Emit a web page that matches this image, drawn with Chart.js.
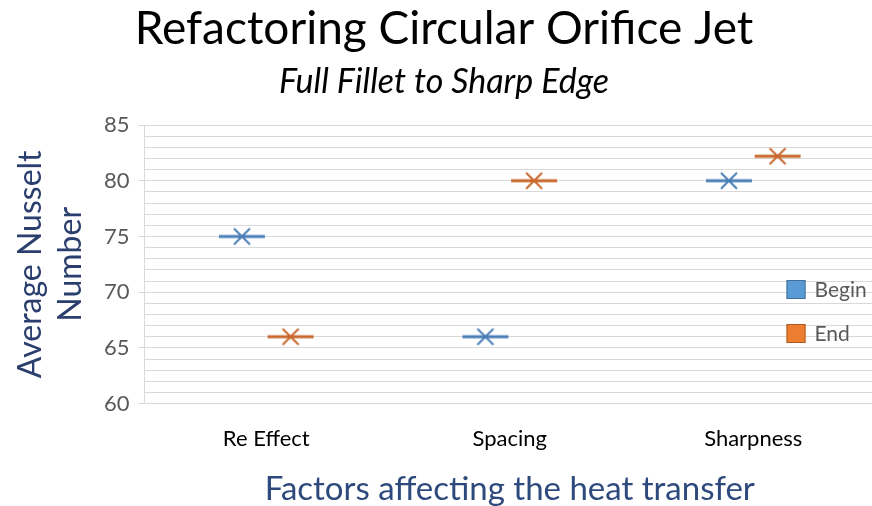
<!DOCTYPE html>
<html>
<head>
<meta charset="utf-8">
<script src="https://cdn.jsdelivr.net/npm/chart.js@4.4.0/dist/chart.umd.min.js"></script>
<style>
  html, body { margin: 0; padding: 0; background: #fff; overflow: hidden; }
  #wrap { width: 880px; height: 506px; }
</style>
</head>
<body>
<div id="wrap"><canvas id="chart" width="880" height="506"></canvas></div>
<script>
// 数据
const categories = ['Re Effect', 'Spacing', 'Sharpness'];
const beginValues = [75, 66, 80];
const endValues = [66, 80, 82.2];
const seriesNames = ['Begin', 'End'];

const FONT = "Lato, 'Open Sans', sans-serif";
const BLUE_LINE = '#4A7EB6';
const ORANGE_LINE = '#C9672C';
const BLUE_FILL = '#5B9BD5';
const ORANGE_FILL = '#ED7D31';

// 标记：横线 + X
function makeMarker(color) {
    const c = document.createElement('canvas');
    c.width = 48; c.height = 20;
    const g = c.getContext('2d');
    g.strokeStyle = color;
    g.lineCap = 'butt';
    g.lineWidth = 3;
    g.beginPath();
    g.moveTo(1, 10); g.lineTo(47, 10);
    g.stroke();
    g.lineWidth = 2;
    g.beginPath();
    g.moveTo(16, 2); g.lineTo(32, 18);
    g.moveTo(32, 2); g.lineTo(16, 18);
    g.stroke();
    return c;
}

// 组内偏移
const offset = 0.1;
function toPoints(values, shift) {
    return values.map((v, i) => ({ x: i + 0.5 + shift, y: v }));
}

// 图例（画在绘图区内部）
const innerLegend = {
    id: 'innerLegend',
    afterDraw(chart) {
        const { ctx, chartArea } = chart;
        const fills = [BLUE_FILL, ORANGE_FILL];
        const borders = ['#41719C', '#AE5A21'];
        ctx.save();
        ctx.font = '21px ' + FONT;
        ctx.textBaseline = 'middle';
        chart.data.datasets.forEach((ds, i) => {
            const x = chartArea.left + 642;
            const y = chartArea.top + 164 + i * 44;
            ctx.fillStyle = fills[i];
            ctx.fillRect(x, y - 9, 19, 19);
            ctx.strokeStyle = borders[i];
            ctx.lineWidth = 1;
            ctx.strokeRect(x + 0.5, y - 8.5, 18, 18);
            ctx.fillStyle = '#595959';
            ctx.fillText(ds.label, x + 28, y + 1);
        });
        ctx.restore();
    }
};

new Chart(document.getElementById('chart').getContext('2d'), {
    type: 'scatter',
    data: {
        datasets: [
            {
                label: seriesNames[0],
                data: toPoints(beginValues, -offset),
                pointStyle: makeMarker(BLUE_LINE),
                backgroundColor: BLUE_FILL,
                borderColor: BLUE_LINE
            },
            {
                label: seriesNames[1],
                data: toPoints(endValues, offset),
                pointStyle: makeMarker(ORANGE_LINE),
                backgroundColor: ORANGE_FILL,
                borderColor: ORANGE_LINE
            }
        ]
    },
    options: {
        responsive: false,
        animation: false,
        layout: { padding: { left: 11, right: 3, top: 4, bottom: 0 } },
        plugins: {
            legend: { display: false },
            tooltip: { enabled: false },
            title: {
                display: true,
                text: 'Refactoring Circular Orifice Jet',
                color: '#000',
                font: { family: FONT, size: 46, weight: 'normal', lineHeight: 1.1 },
                padding: { top: 0, bottom: 2 }
            },
            subtitle: {
                display: true,
                text: 'Full Fillet to Sharp Edge',
                color: '#000',
                font: { family: FONT, size: 34, style: 'italic', lineHeight: 1.1 },
                padding: { top: 7, bottom: 24 }
            }
        },
        scales: {
            x: {
                type: 'linear',
                min: 0,
                max: 3,
                afterBuildTicks(scale) {
                    scale.ticks = categories.map((_, i) => ({ value: i + 0.5 }));
                },
                ticks: {
                    color: '#000',
                    font: { family: FONT, size: 22 },
                    padding: 14,
                    callback: (v) => categories[Math.round(v - 0.5)]
                },
                grid: { display: false },
                border: { display: true, color: '#D9D9D9', width: 1 },
                title: {
                    display: true,
                    text: 'Factors affecting the heat transfer',
                    color: '#2E4A7D',
                    font: { family: FONT, size: 33, lineHeight: 1.0 },
                    padding: { top: 7, bottom: 0 }
                }
            },
            y: {
                min: 60,
                max: 85,
                ticks: {
                    stepSize: 1,
                    autoSkip: false,
                    color: '#595959',
                    font: { family: FONT, size: 22 },
                    padding: 9,
                    callback: (v) => (v % 5 === 0 ? v : '')
                },
                grid: {
                    color: '#D9D9D9',
                    lineWidth: 1,
                    tickLength: 6,
                    // 只有主刻度伸出刻度线
                    tickColor: (ctx) => (ctx.tick && ctx.tick.value % 5 === 0 ? '#D9D9D9' : 'rgba(0,0,0,0)')
                },
                border: { display: true, color: '#D9D9D9', width: 1 },
                title: {
                    display: true,
                    text: ['Average Nusselt', 'Number'],
                    color: '#2B3F6E',
                    font: { family: FONT, size: 32, lineHeight: 1.25 },
                    padding: { top: 0, bottom: 4 }
                }
            }
        }
    },
    plugins: [innerLegend]
});
</script>
</body>
</html>
